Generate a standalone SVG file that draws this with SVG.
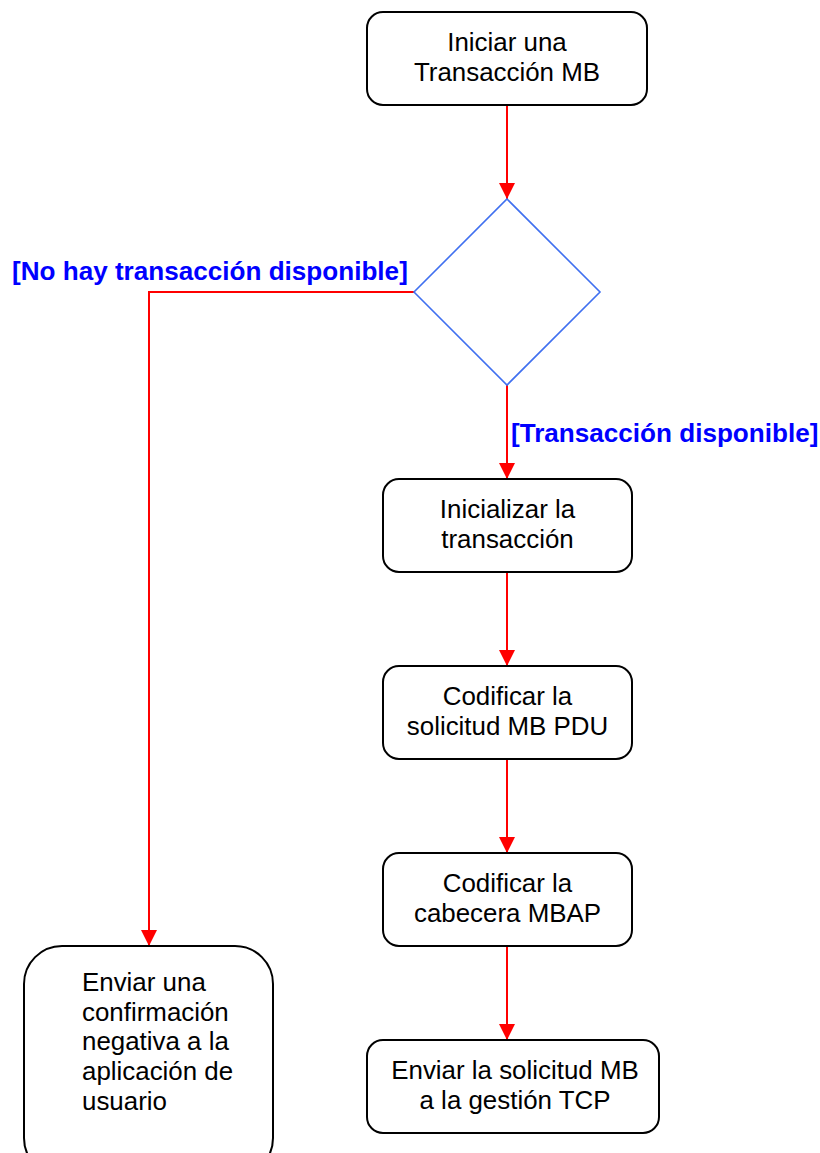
<svg xmlns="http://www.w3.org/2000/svg" width="820" height="1153" viewBox="0 0 820 1153">
  <style>
    .box { fill: #ffffff; stroke: #000000; stroke-width: 2; }
    .dec { fill: #ffffff; stroke: #4070f0; stroke-width: 1.6; }
    .txt { font-family: "Liberation Sans", Arial, sans-serif; font-size: 25.9px; fill: #000000; }
    .c { text-anchor: middle; }
    .guard { font-family: "Liberation Sans", Arial, sans-serif; font-size: 26.1px; font-weight: bold; fill: #0000ff; }
    .flow { fill: none; stroke: #ff0000; stroke-width: 2; }
  </style>
  <defs>
    <marker id="arrow" viewBox="0 0 16 16" refX="16" refY="8" markerWidth="16" markerHeight="16" markerUnits="userSpaceOnUse" orient="auto">
      <path d="M0,0 L16,8 L0,16 Z" fill="#ff0000"/>
    </marker>
  </defs>
  <rect width="820" height="1153" fill="#ffffff"/>

  <g id="connectors">
    <line class="flow" x1="507" y1="105" x2="507" y2="199" marker-end="url(#arrow)"/>
    <polyline class="flow" points="414,292 149,292 149,946" marker-end="url(#arrow)"/>
    <line class="flow" x1="507" y1="385" x2="507" y2="479" marker-end="url(#arrow)"/>
    <line class="flow" x1="507" y1="572" x2="507" y2="666" marker-end="url(#arrow)"/>
    <line class="flow" x1="507" y1="759" x2="507" y2="853" marker-end="url(#arrow)"/>
    <line class="flow" x1="507" y1="946" x2="507" y2="1040" marker-end="url(#arrow)"/>
    <text class="guard" x="12" y="280">[No hay transacción disponible]</text>
    <text class="guard" x="511" y="442">[Transacción disponible]</text>
  </g>

  <g id="start">
    <rect class="box" x="367" y="12" width="280" height="93" rx="16"/>
    <text class="txt c" x="507" y="51">Iniciar una</text>
    <text class="txt c" x="507" y="81">Transacción MB</text>
  </g>

  <g id="decision">
    <polygon class="dec" points="507,199 600,292 507,385 414,292"/>
  </g>

  <g id="init">
    <rect class="box" x="383" y="479" width="249" height="93" rx="16"/>
    <text class="txt c" x="507.5" y="518">Inicializar la</text>
    <text class="txt c" x="507.5" y="548">transacción</text>
  </g>

  <g id="encode-pdu">
    <rect class="box" x="383" y="666" width="249" height="93" rx="16"/>
    <text class="txt c" x="507.5" y="705">Codificar la</text>
    <text class="txt c" x="507.5" y="735">solicitud MB PDU</text>
  </g>

  <g id="encode-mbap">
    <rect class="box" x="383" y="853" width="249" height="93" rx="16"/>
    <text class="txt c" x="507.5" y="892">Codificar la</text>
    <text class="txt c" x="507.5" y="922">cabecera MBAP</text>
  </g>

  <g id="send">
    <rect class="box" x="367" y="1040" width="292" height="93" rx="16"/>
    <text class="txt c" x="515" y="1079">Enviar la solicitud MB</text>
    <text class="txt c" x="515" y="1109">a la gestión TCP</text>
  </g>

  <g id="negative">
    <rect class="box" x="24" y="946" width="249" height="230" rx="38"/>
    <text class="txt" x="82" y="991">Enviar una</text>
    <text class="txt" x="82" y="1021">confirmación</text>
    <text class="txt" x="82" y="1050">negativa a la</text>
    <text class="txt" x="82" y="1080">aplicación de</text>
    <text class="txt" x="82" y="1110">usuario</text>
  </g>
</svg>
